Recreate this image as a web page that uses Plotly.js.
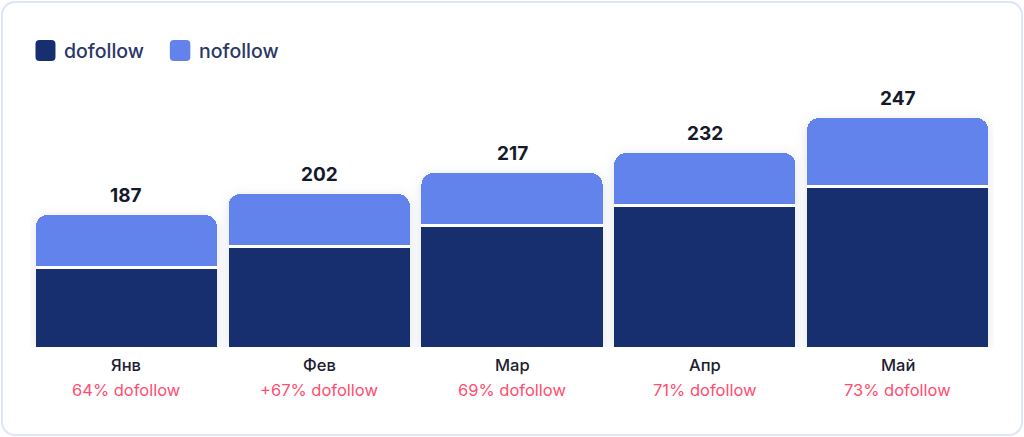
<!DOCTYPE html>
<html>
<head>
<meta charset="utf-8">
<script src="https://cdn.plot.ly/plotly-3.0.1.min.js"></script>
<style>
  html, body { margin: 0; padding: 0; background: #ffffff; }
  #wrap { position: relative; width: 1024px; height: 437px; overflow: hidden; }
  #chart { position: absolute; left: 0; top: 0; width: 1024px; height: 437px; }
  #card { position: absolute; left: 1px; top: 1px; width: 1018px; height: 431px;
          border: 2px solid #dfe4fb; border-radius: 14px; pointer-events: none; }
  #chart .barlayer { filter: drop-shadow(0px 2px 6px rgba(25, 35, 80, 0.13)); }
</style>
</head>
<body>
<div id="wrap">
  <div id="chart"></div>
  <div id="card"></div>
</div>
<script>
// Categories (months)
const months = ['Янв', 'Фев', 'Мар', 'Апр', 'Май'];
// Printed totals above the bars
const totals = [187, 202, 217, 232, 247];
// Printed labels under the months
const dofollowShare = ['64% dofollow', '+67% dofollow', '69% dofollow', '71% dofollow', '73% dofollow'];
// Segment heights as drawn in the picture (the reference bars are illustrative, not to scale)
const dofollowBar = [78, 99, 120, 140, 159];
const nofollowBar = [51, 51, 51, 51, 67];
// Series names
const seriesNames = ['dofollow', 'nofollow'];

const darkColor = '#172f6e';
const lightColor = '#6383ec';
const fontFamily = 'Inter, "Noto Sans", sans-serif';
const separator = 3; // white gap between the two segments (style)

const traces = [
  {
    type: 'bar', name: seriesNames[0], x: months, y: dofollowBar,
    marker: { color: darkColor, line: { width: 0 } },
    hoverinfo: 'skip', showlegend: false
  },
  {
    type: 'bar', name: 'separator', x: months, y: months.map(() => separator),
    marker: { color: '#ffffff', line: { width: 0 } },
    hoverinfo: 'skip', showlegend: false
  },
  {
    type: 'bar', name: seriesNames[1], x: months, y: nofollowBar,
    marker: { color: lightColor, line: { width: 0 } },
    hoverinfo: 'skip', showlegend: false
  }
];

const stackTop = months.map((m, i) => dofollowBar[i] + separator + nofollowBar[i]);

const annotations = [];
months.forEach((m, i) => {
  annotations.push({
    x: m, y: stackTop[i], xref: 'x', yref: 'y', text: String(totals[i]),
    showarrow: false, yanchor: 'middle', yshift: 20,
    font: { family: fontFamily, size: 19, color: '#141a2c', weight: 700 }
  });
  annotations.push({
    x: m, y: 0, xref: 'x', yref: 'y', text: m,
    showarrow: false, yanchor: 'middle', yshift: -18,
    font: { family: fontFamily, size: 16.5, color: '#1c2030', weight: 500 }
  });
  annotations.push({
    x: m, y: 0, xref: 'x', yref: 'y', text: dofollowShare[i],
    showarrow: false, yanchor: 'middle', yshift: -43,
    font: { family: fontFamily, size: 16.5, color: '#ff4d70', weight: 400 }
  });
});

// Legend (custom swatches + labels, top-left)
function px2paperX(px) { return (px - 29.5) / 965; }
function px2paperY(py) { return (347 - py) / 300; }
const legendItems = [
  { name: seriesNames[0], color: darkColor, x0: 35, x1: 55, tx: 62 },
  { name: seriesNames[1], color: lightColor, x0: 169.5, x1: 190, tx: 196.5 }
];
const shapes = [];
legendItems.forEach(it => {
  const r = 4;
  const x0 = it.x0, x1 = it.x1, y0 = 40, y1 = 61;
  shapes.push({
    type: 'path', xref: 'paper', yref: 'paper', layer: 'above',
    path: 'M' + px2paperX(x0 + r) + ',' + px2paperY(y0) +
          ' L' + px2paperX(x1 - r) + ',' + px2paperY(y0) +
          ' Q' + px2paperX(x1) + ',' + px2paperY(y0) + ' ' + px2paperX(x1) + ',' + px2paperY(y0 + r) +
          ' L' + px2paperX(x1) + ',' + px2paperY(y1 - r) +
          ' Q' + px2paperX(x1) + ',' + px2paperY(y1) + ' ' + px2paperX(x1 - r) + ',' + px2paperY(y1) +
          ' L' + px2paperX(x0 + r) + ',' + px2paperY(y1) +
          ' Q' + px2paperX(x0) + ',' + px2paperY(y1) + ' ' + px2paperX(x0) + ',' + px2paperY(y1 - r) +
          ' L' + px2paperX(x0) + ',' + px2paperY(y0 + r) +
          ' Q' + px2paperX(x0) + ',' + px2paperY(y0) + ' ' + px2paperX(x0 + r) + ',' + px2paperY(y0) + ' Z',
    fillcolor: it.color, line: { width: 0 }
  });
  annotations.push({
    xref: 'paper', yref: 'paper', x: px2paperX(it.tx), y: px2paperY(50.5),
    xanchor: 'left', yanchor: 'middle', showarrow: false, text: it.name,
    font: { family: fontFamily, size: 19.5, color: '#2b3866', weight: 500 }
  });
});

const layout = {
  width: 1024, height: 437,
  margin: { l: 29.5, r: 29.5, t: 47, b: 90, pad: 0 },
  paper_bgcolor: 'rgba(0,0,0,0)', plot_bgcolor: 'rgba(0,0,0,0)',
  barmode: 'stack', bargap: 0.06, barcornerradius: 12,
  showlegend: false,
  xaxis: { showticklabels: false, showgrid: false, zeroline: false, showline: false, ticks: '', fixedrange: true },
  yaxis: { range: [0, 300], visible: false, showgrid: false, zeroline: false, fixedrange: true },
  annotations: annotations,
  shapes: shapes,
  hovermode: false,
  font: { family: fontFamily }
};

Plotly.newPlot('chart', traces, layout, { staticPlot: true, displayModeBar: false });
</script>
</body>
</html>
